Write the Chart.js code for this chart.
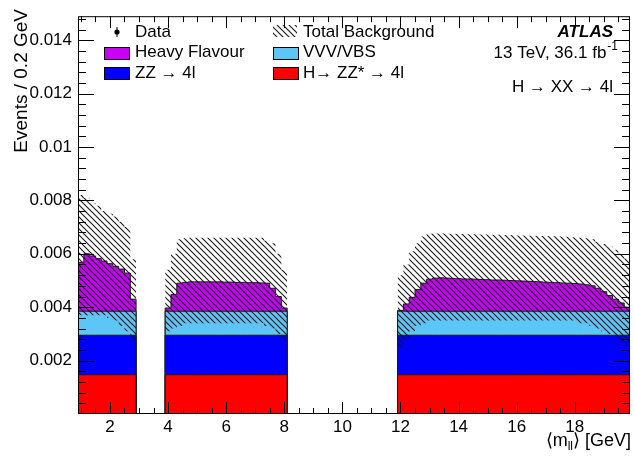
<!DOCTYPE html>
<html>
<head>
<meta charset="utf-8">
<script src="https://cdn.jsdelivr.net/npm/chart.js@4.4.0/dist/chart.umd.min.js"></script>
<style>
  html, body { margin: 0; padding: 0; background: #fff; }
  #wrap { width: 634px; height: 458px; }
</style>
</head>
<body>
<div id="wrap"><canvas id="mllChart" width="634" height="458"></canvas></div>
<script>
// 0.2 GeV bins, three <m_ll> windows (quarkonium regions removed)
const binWidth = 0.2;
const windows = [[0.9, 2.9], [3.9, 8.1], [11.9, 19.9]];

// expected events per bin, windows one after another (10 + 21 + 40 bins)
const hzz = [
  0.00147, 0.00147, 0.00147, 0.00147, 0.00147, 0.00147, 0.00147, 0.00147, 0.00147, 0.00147,
  0.00147, 0.00147, 0.00147, 0.00147, 0.00147, 0.00147, 0.00147, 0.00147, 0.00147, 0.00147, 0.00147,
  0.00147, 0.00147, 0.00147, 0.00147, 0.00147, 0.00147, 0.00147, 0.00147, 0.00147, 0.00147,
  0.00147, 0.00147, 0.00147, 0.00147, 0.00147, 0.00147, 0.00147, 0.00147, 0.00147, 0.00147,
  0.00147, 0.00147, 0.00147, 0.00147, 0.00147, 0.00147, 0.00147, 0.00147, 0.00147, 0.00147,
  0.00147, 0.00147, 0.00147, 0.00147, 0.00147, 0.00147, 0.00147, 0.00147, 0.00147, 0.00147,
  0.00147, 0.00147, 0.00147, 0.00147, 0.00147, 0.00147, 0.00147, 0.00147, 0.00147, 0.00147
];
const zz = [
  0.00148, 0.00148, 0.00148, 0.00148, 0.00148, 0.00148, 0.00148, 0.00148, 0.00148, 0.00148,
  0.00148, 0.00148, 0.00148, 0.00148, 0.00148, 0.00148, 0.00148, 0.00148, 0.00148, 0.00148, 0.00148,
  0.00148, 0.00148, 0.00148, 0.00148, 0.00148, 0.00148, 0.00148, 0.00148, 0.00148, 0.00148,
  0.00148, 0.00148, 0.00148, 0.00148, 0.00148, 0.00148, 0.00148, 0.00148, 0.00148, 0.00148,
  0.00148, 0.00148, 0.00148, 0.00148, 0.00148, 0.00148, 0.00148, 0.00148, 0.00148, 0.00148,
  0.00148, 0.00148, 0.00148, 0.00148, 0.00148, 0.00148, 0.00148, 0.00148, 0.00148, 0.00148,
  0.00148, 0.00148, 0.00148, 0.00148, 0.00148, 0.00148, 0.00148, 0.00148, 0.00148, 0.00148
];
const vvv = [
  0.0009, 0.0009, 0.0009, 0.0009, 0.0009, 0.0009, 0.0009, 0.0009, 0.0009, 0.0009,
  0.0009, 0.0009, 0.0009, 0.0009, 0.0009, 0.0009, 0.0009, 0.0009, 0.0009, 0.0009, 0.0009,
  0.0009, 0.0009, 0.0009, 0.0009, 0.0009, 0.0009, 0.0009, 0.0009, 0.0009, 0.0009,
  0.0009, 0.0009, 0.0009, 0.0009, 0.0009, 0.0009, 0.0009, 0.0009, 0.0009, 0.0009,
  0.0009, 0.0009, 0.0009, 0.0009, 0.0009, 0.0009, 0.0009, 0.0009, 0.0009, 0.0009,
  0.0009, 0.0009, 0.0009, 0.0009, 0.0009, 0.0009, 0.0009, 0.0009, 0.0009, 0.0009,
  0.0009, 0.0009, 0.0009, 0.0009, 0.0009, 0.0009, 0.0009, 0.0009, 0.0009, 0.0009
];
const heavyFlavour = [
  0.00183, 0.00215, 0.00207, 0.00197, 0.00188, 0.00178, 0.00168, 0.00158, 0.00143, 0.00045,
  0.00012, 0.00063, 0.00105, 0.00108, 0.00110, 0.00110, 0.00110, 0.00110, 0.00110, 0.00110, 0.00109,
  0.00109, 0.00108, 0.00108, 0.00107, 0.00107, 0.00106, 0.00105, 0.00086, 0.00055, 0.00012,
  0.00003, 0.00027, 0.00052, 0.00081, 0.00105, 0.00120, 0.00124, 0.00125, 0.00124, 0.00123,
  0.00122, 0.00121, 0.00121, 0.00120, 0.00119, 0.00118, 0.00117, 0.00117, 0.00116, 0.00115,
  0.00114, 0.00113, 0.00112, 0.00111, 0.00110, 0.00109, 0.00108, 0.00107, 0.00106, 0.00105,
  0.00104, 0.00102, 0.00099, 0.00095, 0.00086, 0.00073, 0.00059, 0.00045, 0.00031, 0.00015
];
// total background uncertainty band, upper / lower edge
const bkgUp = [
  0.0082, 0.0081, 0.0079, 0.0078, 0.0076, 0.0075, 0.0074, 0.0072, 0.0070, 0.0058,
  0.0054, 0.0060, 0.00655, 0.00658, 0.0066, 0.0066, 0.0066, 0.0066, 0.0066, 0.0066, 0.0066,
  0.0066, 0.0066, 0.0066, 0.0066, 0.0066, 0.0066, 0.0065, 0.0064, 0.0060, 0.0054,
  0.0052, 0.0056, 0.0061, 0.0064, 0.00665, 0.00675, 0.00676, 0.00676, 0.00675, 0.00675,
  0.00674, 0.00674, 0.00673, 0.00673, 0.00672, 0.00672, 0.00671, 0.00671, 0.0067, 0.0067,
  0.00669, 0.00669, 0.00668, 0.00668, 0.00667, 0.00667, 0.00666, 0.00666, 0.00665, 0.00664,
  0.00662, 0.0066, 0.00658, 0.00655, 0.00645, 0.00637, 0.00627, 0.00615, 0.0060, 0.00582
];
const bkgDown = [
  0.0037, 0.0037, 0.0037, 0.0037, 0.0037, 0.0036, 0.0035, 0.0033, 0.0031, 0.0028,
  0.0031, 0.0032, 0.0033, 0.0034, 0.0034, 0.0034, 0.0034, 0.0034, 0.0034, 0.0034, 0.0034,
  0.0034, 0.0034, 0.0034, 0.0034, 0.0034, 0.0034, 0.0033, 0.0032, 0.0030, 0.0028,
  0.0025, 0.0028, 0.0031, 0.0033, 0.0034, 0.0035, 0.0035, 0.0035, 0.0035, 0.0035,
  0.0035, 0.0035, 0.0035, 0.0035, 0.0035, 0.0035, 0.0035, 0.0035, 0.0035, 0.0035,
  0.0035, 0.0035, 0.0035, 0.0035, 0.0035, 0.0035, 0.0035, 0.0035, 0.0035, 0.0035,
  0.0035, 0.0034, 0.0034, 0.0033, 0.0032, 0.0031, 0.0030, 0.0029, 0.0027, 0.0026
];

const xTicks = [2, 4, 6, 8, 10, 12, 14, 16, 18];
const yTicks = [0.002, 0.004, 0.006, 0.008, 0.01, 0.012, 0.014];
const yTickLabels = ["0.002", "0.004", "0.006", "0.008", "0.01", "0.012", "0.014"];

const FONT = "'Liberation Sans', Arial, Helvetica, sans-serif";
Chart.defaults.font.family = FONT;
Chart.defaults.font.size = 17;
Chart.defaults.color = "#000";

function hatchPattern() {
  const s = 6;
  const c = document.createElement("canvas");
  c.width = s; c.height = s;
  const g = c.getContext("2d");
  g.strokeStyle = "rgba(20,20,20,0.95)";
  g.lineWidth = 1.2;
  g.beginPath();
  g.moveTo(-1, -1); g.lineTo(s + 1, s + 1);
  g.moveTo(-1, s - 1); g.lineTo(1, s + 1);
  g.moveTo(s - 1, -1); g.lineTo(s + 1, 1);
  g.stroke();
  return g.createPattern(c, "repeat");
}
const hatch = hatchPattern();

// running sum of the stack, bottom to top
function stackUpTo(list) {
  return list[0].map((_, i) => list.reduce((s, arr) => s + arr[i], 0));
}

// histogram outline points for a stepped line; "closed" drops to zero at window edges
function histPoints(values, closed) {
  const pts = [];
  let k = 0;
  windows.forEach(([lo, hi], w) => {
    const n = Math.round((hi - lo) / binWidth);
    if (closed) pts.push({x: lo, y: 0});
    for (let i = 0; i < n; i++) pts.push({x: lo + i * binWidth, y: values[k + i]});
    pts.push({x: hi, y: values[k + n - 1]});
    if (closed) pts.push({x: hi, y: 0});
    k += n;
    if (w < windows.length - 1) pts.push({x: (hi + windows[w + 1][0]) / 2, y: null});
  });
  return pts;
}

const colors = {
  hf: "#c800f8",
  vvv: "#5ec5f7",
  zz: "#0000ff",
  hzz: "#ff0000"
};

function histSet(label, values, color, order) {
  return {
    label: label,
    data: histPoints(values, true),
    borderColor: "#1a1a1a",
    borderWidth: 1,
    backgroundColor: color,
    fill: "origin",
    stepped: true,
    pointRadius: 0,
    spanGaps: false,
    order: order
  };
}

const datasets = [
  histSet("Heavy Flavour", stackUpTo([hzz, zz, vvv, heavyFlavour]), colors.hf, 4),
  histSet("VVV/VBS", stackUpTo([hzz, zz, vvv]), colors.vvv, 3),
  histSet("ZZ \u2192 4l", stackUpTo([hzz, zz]), colors.zz, 2),
  histSet("H\u2192 ZZ* \u2192 4l", hzz, colors.hzz, 1),
  {
    label: "Total Background",
    data: histPoints(bkgUp, false),
    borderWidth: 0,
    borderColor: "rgba(0,0,0,0)",
    backgroundColor: hatch,
    fill: {target: 5},
    stepped: true,
    pointRadius: 0,
    spanGaps: false,
    order: 0
  },
  {
    label: "band-low",
    data: histPoints(bkgDown, false),
    borderWidth: 0,
    borderColor: "rgba(0,0,0,0)",
    fill: false,
    stepped: true,
    pointRadius: 0,
    spanGaps: false,
    order: 0
  }
];

// frame, inward ticks, legend and labels
const decorations = {
  id: "decorations",
  afterDatasetsDraw(chart) {
    const {ctx, chartArea: a, scales: {x, y}} = chart;
    ctx.save();
    ctx.strokeStyle = "#000";
    ctx.lineWidth = 1;
    ctx.beginPath();
    for (let v = 1; v < 19.95; v += 0.5) {
      const px = Math.round(x.getPixelForValue(v)) + 0.5;
      const len = xTicks.includes(Math.round(v * 10) / 10) ? 12 : 6;
      ctx.moveTo(px, a.bottom); ctx.lineTo(px, a.bottom - len);
      ctx.moveTo(px, a.top); ctx.lineTo(px, a.top + len);
    }
    for (let i = 1; i * 0.0004 < 0.0149; i++) {
      const v = i * 0.0004;
      const py = Math.round(y.getPixelForValue(v)) + 0.5;
      const len = i % 5 === 0 ? 16 : 8;
      ctx.moveTo(a.left, py); ctx.lineTo(a.left + len, py);
      ctx.moveTo(a.right, py); ctx.lineTo(a.right - len, py);
    }
    ctx.stroke();
    ctx.strokeRect(a.left + 0.5, a.top + 0.5, a.right - a.left - 1, a.bottom - a.top - 1);
    ctx.restore();
  },
  afterDraw(chart) {
    const {ctx} = chart;
    const ds = chart.data.datasets;
    ctx.save();
    ctx.fillStyle = "#000";
    ctx.font = "17px " + FONT;
    ctx.textBaseline = "alphabetic";
    ctx.textAlign = "left";

    // legend, first column
    ctx.fillRect(116.5, 27, 1, 10);
    ctx.beginPath(); ctx.arc(117, 32, 2.6, 0, Math.PI * 2); ctx.fill();
    ctx.fillText("Data", 135, 37);
    const box = (bx, by, color) => {
      ctx.fillStyle = color;
      ctx.fillRect(bx, by, 26, 13);
      ctx.strokeStyle = "#000";
      ctx.lineWidth = 1;
      ctx.strokeRect(bx + 0.5, by + 0.5, 25, 12);
      ctx.fillStyle = "#000";
    };
    box(104, 47, ds[0].backgroundColor);
    ctx.fillText(ds[0].label, 135, 57);
    box(104, 67, ds[2].backgroundColor);
    ctx.fillText(ds[2].label, 135, 78);

    // legend, second column
    ctx.fillStyle = hatch;
    ctx.fillRect(273, 25, 24, 12);
    ctx.fillStyle = "#000";
    ctx.fillText(ds[4].label, 303, 37);
    box(273, 47, ds[1].backgroundColor);
    ctx.fillText(ds[1].label, 303, 57);
    box(273, 67, ds[3].backgroundColor);
    ctx.fillText(ds[3].label, 303, 78);

    // experiment label
    ctx.textAlign = "right";
    ctx.font = "italic bold 17px " + FONT;
    ctx.fillText("ATLAS", 613, 37);
    ctx.font = "12px " + FONT;
    ctx.fillText("-1", 618, 50);
    const supW = ctx.measureText("-1").width;
    ctx.font = "17px " + FONT;
    ctx.fillText("13 TeV, 36.1 fb", 618 - supW - 1, 58);
    ctx.fillText("H \u2192 XX \u2192 4l", 613, 92);

    // x-axis title with subscript
    const parts = [["\u27e8m", 18, 0], ["ll", 12, 4], ["\u27e9 [GeV]", 18, 0]];
    let total = 0;
    parts.forEach(p => { ctx.font = p[1] + "px " + FONT; total += ctx.measureText(p[0]).width; });
    let cx = 631 - total;
    ctx.textAlign = "left";
    parts.forEach(p => {
      ctx.font = p[1] + "px " + FONT;
      ctx.fillText(p[0], cx, 446 + p[2]);
      cx += ctx.measureText(p[0]).width;
    });

    // y-axis title
    ctx.translate(27, 9);
    ctx.rotate(-Math.PI / 2);
    ctx.textAlign = "right";
    ctx.font = "19px " + FONT;
    ctx.fillText("Events / 0.2 GeV", 0, 0);
    ctx.restore();
  }
};

new Chart(document.getElementById("mllChart"), {
  type: "line",
  data: {datasets: datasets},
  options: {
    responsive: false,
    animation: false,
    devicePixelRatio: 1,
    layout: {padding: {top: 11, right: 4, left: 0, bottom: 0}},
    plugins: {legend: {display: false}, tooltip: {enabled: false}},
    scales: {
      x: {
        type: "linear",
        min: 0.9,
        max: 19.9,
        grid: {display: false, drawTicks: false, tickLength: 0},
        border: {display: false},
        afterBuildTicks: s => { s.ticks = xTicks.map(v => ({value: v})); },
        afterFit: s => { s.height = 44; },
        ticks: {padding: 3, maxRotation: 0, callback: v => String(v)}
      },
      y: {
        type: "linear",
        min: 0,
        max: 0.0149,
        grid: {display: false, drawTicks: false, tickLength: 0},
        border: {display: false},
        afterBuildTicks: s => { s.ticks = yTicks.map(v => ({value: v})); },
        afterFit: s => { s.width = 78; },
        ticks: {padding: 6, callback: (v, i) => yTickLabels[i]}
      }
    }
  },
  plugins: [decorations]
});
</script>
</body>
</html>
